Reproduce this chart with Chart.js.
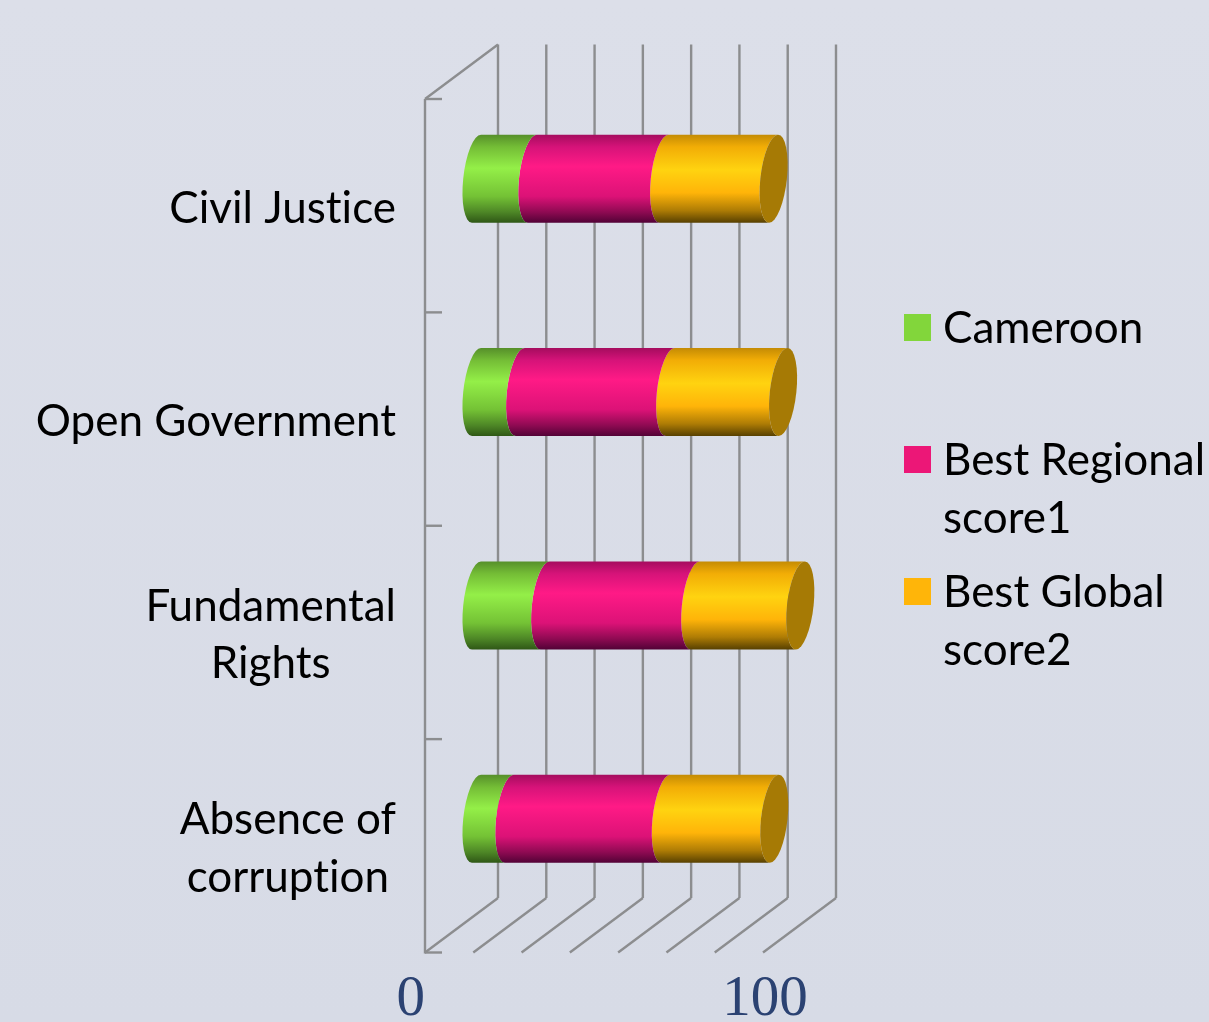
<!DOCTYPE html>
<html>
<head>
<meta charset="utf-8">
<title>Rule of law scores</title>
<script src="https://cdn.jsdelivr.net/npm/chart.js@4/dist/chart.umd.min.js"></script>
<style>
  html, body { margin: 0; padding: 0; background: #d9dde8; }
  canvas { display: block; background: linear-gradient(#dcdfe9, #d7dbe6); }
</style>
</head>
<body>
<canvas id="lawChart" width="1209" height="1022"></canvas>
<script>
// values
var categories = ['Civil Justice', 'Open Government', ['Fundamental', 'Rights'], ['Absence of', 'corruption']];
var cameroon = [16.5, 12.9, 20.3, 9.7];
var bestRegional = [39.0, 44.4, 44.4, 46.3];
var bestGlobal = [32.4, 33.4, 31.1, 32.1];
var seriesNames = ['Cameroon', 'Best Regional score1', 'Best Global score2'];
var legendLines = [['Cameroon'], ['Best Regional', 'score1'], ['Best Global', 'score2']];
var legendTops = [314, 446, 578];
var gridValues = [0, 14.2857, 28.5714, 42.8571, 57.1429, 71.4286, 85.7143, 100];
var tickLabels = ['0', '100'];

// gradients across the cylinder, top to bottom
var greenStops = [[0, '#568f2a'], [0.14, '#74bd36'], [0.38, '#94ef48'], [0.7, '#74c235'], [0.88, '#4d8626'], [1, '#2f5716']];
var pinkStops = [[0, '#a50c5e'], [0.14, '#d61379'], [0.36, '#ff1a86'], [0.7, '#dc1277'], [0.88, '#8e0a52'], [1, '#520236']];
var orangeStops = [[0, '#c48b04'], [0.14, '#f2ad06'], [0.4, '#ffd310'], [0.66, '#ffb409'], [0.86, '#ae7c05'], [1, '#574001']];
var seriesColors = ['#82d63b', '#ec1777', '#ffb509'];
var seriesStops = {};
seriesStops[seriesColors[0]] = greenStops;
seriesStops[seriesColors[1]] = pinkStops;
seriesStops[seriesColors[2]] = orangeStops;
var capColor = '#a67a05';
var axisColor = '#8c8d8f';

var labelFont = '44px Lato';
var frontDx = -51.5, frontDy = 27;     // front wall relative to the bar plane
var backDx = 21.5, backDy = -27.5;     // back wall relative to the bar plane
var capA = 13.3, capSkew = 4.5;

// bars become cylinder pieces: convex on the left, hollow on the right where the next one sits
var BarEl = Chart.registry.getElement('bar');
BarEl.prototype.draw = function (ctx) {
    var p = this.getProps(['x', 'y', 'base', 'height']);
    var b = p.height / 2;
    var stops = seriesStops[this.options.backgroundColor];
    ctx.save();
    ctx.translate(0, p.y);
    ctx.transform(1, 0, -capSkew / b, 1, 0, 0);
    var grad = ctx.createLinearGradient(0, -b, 0, b);
    stops.forEach(function (s) { grad.addColorStop(s[0], s[1]); });
    ctx.fillStyle = grad;
    ctx.beginPath();
    ctx.moveTo(p.base, -b);
    ctx.lineTo(p.x, -b);
    ctx.ellipse(p.x, 0, capA, b, 0, -Math.PI / 2, Math.PI / 2, true);
    ctx.lineTo(p.base, b);
    ctx.ellipse(p.base, 0, capA, b, 0, Math.PI / 2, Math.PI * 1.5);
    ctx.closePath();
    ctx.fill();
    ctx.restore();
};

function line(ctx, x1, y1, x2, y2) {
    ctx.beginPath();
    ctx.moveTo(x1, y1);
    ctx.lineTo(x2, y2);
    ctx.stroke();
}

var wallsPlugin = {
    id: 'walls',
    beforeDatasetsDraw: function (chart) {
        var ctx = chart.ctx, xs = chart.scales.x, ys = chart.scales.y;
        var top = ys.top, bottom = ys.bottom;
        var x0 = xs.getPixelForValue(0);
        ctx.save();
        ctx.strokeStyle = axisColor;
        ctx.lineWidth = 2.4;
        gridValues.forEach(function (v) {
            var px = xs.getPixelForValue(v);
            line(ctx, px + backDx, top + backDy, px + backDx, bottom + backDy);
            line(ctx, px + backDx, bottom + backDy, px + frontDx, bottom + frontDy);
        });
        // front axis with its ticks
        line(ctx, x0 + frontDx, top + frontDy, x0 + frontDx, bottom + frontDy + 1);
        line(ctx, x0 + frontDx, top + frontDy, x0 + backDx, top + backDy);
        var step = (bottom - top) / categories.length;
        for (var i = 0; i <= categories.length; i++) {
            var ty = top + frontDy + step * i;
            line(ctx, x0 + frontDx, ty, x0 + frontDx + 17, ty);
        }
        ctx.restore();
    },
    afterDatasetsDraw: function (chart) {
        var ctx = chart.ctx, xs = chart.scales.x, ys = chart.scales.y;
        // dark end caps on the last series
        chart.getDatasetMeta(2).data.forEach(function (el) {
            var p = el.getProps(['x', 'y', 'height']);
            var b = p.height / 2;
            ctx.save();
            ctx.translate(0, p.y);
            ctx.transform(1, 0, -capSkew / b, 1, 0, 0);
            ctx.fillStyle = capColor;
            ctx.beginPath();
            ctx.ellipse(p.x, 0, capA, b, 0, 0, Math.PI * 2);
            ctx.fill();
            ctx.restore();
        });

        ctx.save();
        // category labels, lines centred in a block that ends at the right edge
        ctx.font = labelFont;
        ctx.letterSpacing = '0.01px';   // keeps Lato from joining "ti"
        ctx.fillStyle = '#000000';
        ctx.textAlign = 'center';
        ctx.textBaseline = 'alphabetic';
        categories.forEach(function (label, i) {
            var lines = [].concat(label);
            var w = Math.max.apply(null, lines.map(function (s) { return ctx.measureText(s).width; }));
            var cx = 396 - w / 2;
            var y = ys.getPixelForValue(i) + 44 - (lines.length - 1) * 28.75;
            lines.forEach(function (s, j) { ctx.fillText(s, cx, y + j * 57.5); });
        });

        // legend
        ctx.textAlign = 'left';
        legendLines.forEach(function (lines, i) {
            ctx.fillStyle = chart.data.datasets[i].backgroundColor;
            ctx.fillRect(904, legendTops[i], 27, 27);
            ctx.fillStyle = '#000000';
            lines.forEach(function (s, j) { ctx.fillText(s, 943, legendTops[i] + 29 + j * 58); });
        });

        // value axis labels
        ctx.letterSpacing = '0px';
        ctx.font = '57px "Liberation Serif"';
        ctx.fillStyle = '#2b4272';
        ctx.textAlign = 'right';
        ctx.fillText(tickLabels[0], xs.getPixelForValue(0) + frontDx, 1015);
        ctx.textAlign = 'center';
        ctx.fillText(tickLabels[1], xs.getPixelForValue(100) + frontDx + 2, 1015);
        ctx.restore();
    }
};

new Chart(document.getElementById('lawChart').getContext('2d'), {
    type: 'bar',
    data: {
        labels: categories,
        datasets: [
            { label: seriesNames[0], data: cameroon, backgroundColor: seriesColors[0], clip: false },
            { label: seriesNames[1], data: bestRegional, backgroundColor: seriesColors[1], clip: false },
            { label: seriesNames[2], data: bestGlobal, backgroundColor: seriesColors[2], clip: false }
        ]
    },
    options: {
        indexAxis: 'y',
        responsive: false,
        animation: false,
        categoryPercentage: 1,
        barPercentage: 0.413,
        layout: { padding: { left: 476.5, right: 394.5, top: 72, bottom: 96.5 } },
        scales: {
            x: { type: 'linear', min: 0, max: 100, stacked: true, display: false },
            y: { stacked: true, display: false }
        },
        plugins: {
            legend: { display: false },
            tooltip: { enabled: false }
        }
    },
    plugins: [wallsPlugin]
});
</script>
</body>
</html>
